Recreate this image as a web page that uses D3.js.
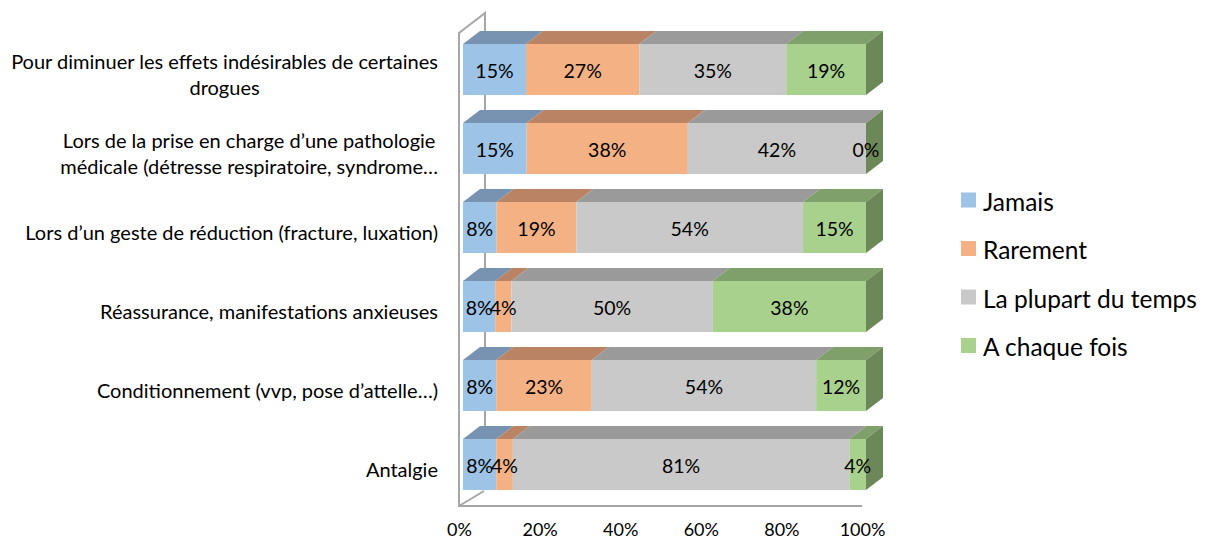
<!DOCTYPE html>
<html><head><meta charset="utf-8">
<script src="https://cdn.jsdelivr.net/npm/d3@7"></script>
<style>
html,body{margin:0;padding:0;background:#fff;}
svg{display:block;font-family:Lato, "Open Sans", sans-serif;}
</style></head>
<body>
<svg id="chart" width="1210" height="542"></svg>
<script>
// ---- data ----
const categories = [
  "Pour diminuer les effets indésirables de certaines\ndrogues",
  "Lors de la prise en charge d\u2019une pathologie\nmédicale (détresse respiratoire, syndrome\u2026",
  "Lors d\u2019un geste de réduction (fracture, luxation)",
  "Réassurance, manifestations anxieuses",
  "Conditionnement (vvp, pose d\u2019attelle\u2026)",
  "Antalgie"
];
const seriesNames = ["Jamais", "Rarement", "La plupart du temps", "A chaque fois"];
const jamais   = [15, 15, 8, 8, 8, 8];
const rarement = [27, 38, 19, 4, 23, 4];
const plupart  = [35, 42, 54, 50, 54, 81];
const chaque   = [19, 0, 15, 38, 12, 4];
const tickValues = [0, 0.2, 0.4, 0.6, 0.8, 1];

// ---- styles ----
const frontColors = ["#9DC3E6", "#F4B183", "#C9C9C9", "#A9D18E"];
const topColors   = ["#7893B1", "#BA8464", "#9A9A9A", "#7F9F6B"];
const sideColors  = ["#6A8098", "#9E7055", "#868686", "#6C8859"];
const DX = 17, DY = 13;

const svg = d3.select("#chart");
const seriesArrays = [jamais, rarement, plupart, chaque];
const rows = categories.map((c, i) => {
  const r = {cat: c};
  seriesNames.forEach((s, k) => r[s] = seriesArrays[k][i]);
  return r;
});
const stacked = d3.stack().keys(seriesNames).offset(d3.stackOffsetExpand)(rows);

const xAxisScale = d3.scaleLinear().domain([0, 1]).range([459, 862]);
const xBar = d3.scaleLinear().domain([0, 1]).range([463, 866]);
const y = d3.scaleBand().domain(categories).range([30, 504]).paddingInner(0.354).paddingOuter(0.177);

// walls
const wall = svg.append("g").attr("fill", "none").attr("stroke", "#A6A6A6").attr("stroke-width", 2);
wall.append("path").attr("d", `M${xAxisScale(0)},507 L${xAxisScale(0)},33 L${xAxisScale(0)+26},13 L${xAxisScale(0)+26},490`);
wall.append("path").attr("d", `M${xAxisScale(0)},506 L${xAxisScale(0)+25},491`);
wall.append("path").attr("d", `M${xAxisScale(0)},506 L${xAxisScale(1)},506`);

// bars
const bars = svg.append("g");
stacked.forEach((ser, k) => {
  ser.forEach((d, i) => {
    const x0 = xBar(d[0]), x1 = xBar(d[1]);
    const yt = y(categories[i]), h = y.bandwidth();
    const g = bars.append("g");
    g.append("path")
      .attr("d", `M${x0},${yt} L${x0+DX},${yt-DY} L${x1+DX},${yt-DY} L${x1},${yt} Z`)
      .attr("fill", topColors[k]);
    g.append("rect").attr("x", x0).attr("y", yt).attr("width", Math.max(0, x1 - x0)).attr("height", h)
      .attr("fill", frontColors[k]);
    if (k === seriesNames.length - 1) {
      g.append("path")
        .attr("d", `M${x1},${yt} L${x1+DX},${yt-DY} L${x1+DX},${yt+h-DY} L${x1},${yt+h} Z`)
        .attr("fill", sideColors[k]);
    }
  });
});

// data labels
const labels = svg.append("g").attr("font-size", 19.5).attr("fill", "#000").attr("text-anchor", "middle");
stacked.forEach((ser, k) => {
  ser.forEach((d, i) => {
    labels.append("text")
      .attr("x", (xBar(d[0]) + xBar(d[1])) / 2)
      .attr("y", y(categories[i]) + y.bandwidth() / 2 + 1)
      .attr("dominant-baseline", "central")
      .text(seriesArrays[k][i] + "%");
  });
});

// category labels
const catG = svg.append("g").attr("font-size", 20).attr("fill", "#000");
const rightEdge = 438;
categories.forEach((c) => {
  const lines = c.split("\n");
  const cy = y(c) + y.bandwidth() / 2 + 4;
  const lh = 26;
  const texts = lines.map((ln, j) => catG.append("text")
      .attr("y", cy + (j - (lines.length - 1) / 2) * lh)
      .attr("dominant-baseline", "central")
      .attr("text-anchor", "middle")
      .text(ln));
  const maxW = d3.max(texts, t => t.node().getComputedTextLength());
  texts.forEach(t => t.attr("x", rightEdge - maxW / 2));
});

// x axis
const axis = d3.axisBottom(xAxisScale).tickValues(tickValues).tickFormat(d3.format(".0%")).tickSize(0).tickPadding(0);
const ax = svg.append("g").attr("transform", "translate(0,523)").call(axis);
ax.select(".domain").remove();
ax.selectAll("text").attr("font-size", 18).attr("font-family", "Lato, 'Open Sans', sans-serif").attr("fill", "#000").attr("dy", "0.71em");

// legend
const leg = svg.append("g").attr("font-size", 24.5);
seriesNames.forEach((s, k) => {
  const cy = 200 + k * 48.5;
  leg.append("rect").attr("x", 961).attr("y", cy - 7.5).attr("width", 15).attr("height", 15).attr("fill", frontColors[k]);
  leg.append("text").attr("x", 983).attr("y", cy + 1).attr("dominant-baseline", "central").attr("fill", "#000").text(s);
});
</script>
</body></html>
